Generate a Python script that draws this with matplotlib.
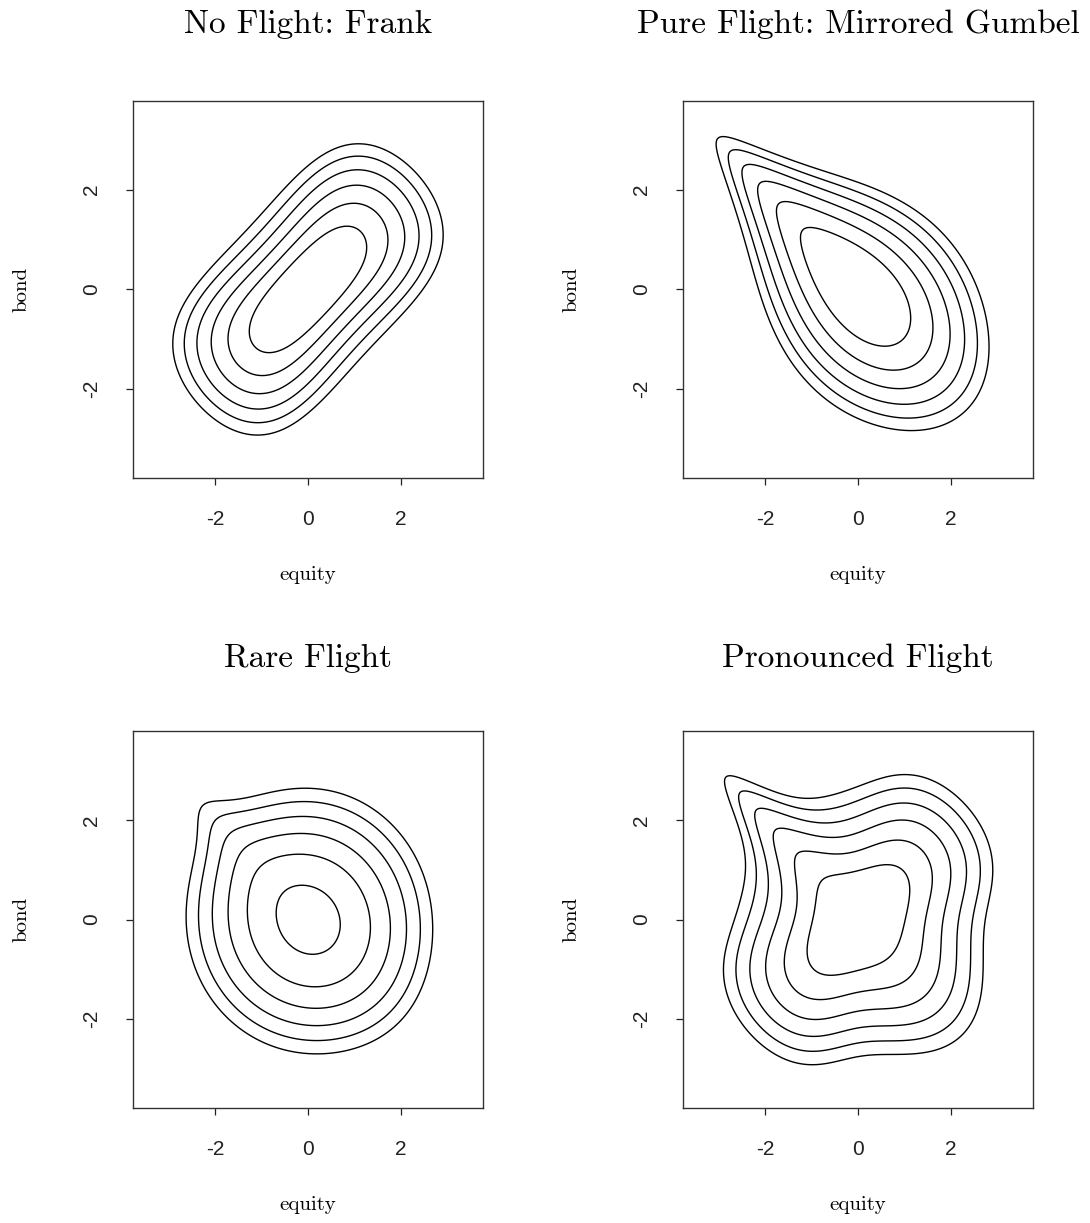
import math
import numpy as np
import matplotlib
matplotlib.use("Agg")
import matplotlib.pyplot as plt

plt.rcParams['axes.unicode_minus'] = False

# panel titles and axis labels
titles = ["No Flight: Frank", "Pure Flight: Mirrored Gumbel", "Rare Flight", "Pronounced Flight"]
xlabel = "equity"
ylabel = "bond"
ticks = [-2, 0, 2]
lim = 3.78

# copula parameters (standard normal margins)
theta_frank = 5.0
theta_gumbel = 1.6
# rare flight: independence + mirrored Gumbel
rare_w = [0.75, 0.25]
rare_theta = 1.4
# pronounced flight: Frank + independence + mirrored Gumbel
pron_w = [0.5, 0.2, 0.3]
pron_theta_frank = 5.0
pron_theta_gumbel = 1.8

# contour levels of the joint density
levels_frank = [0.003125, 0.00625, 0.0125, 0.025, 0.05, 0.1]
levels_gumbel = [0.003125, 0.00625, 0.0125, 0.025, 0.05, 0.1]
levels_rare = [0.004, 0.008, 0.016, 0.032, 0.064, 0.128]
levels_pron = [0.0019, 0.00402, 0.00852, 0.01803, 0.03817, 0.0808]

erfc = np.vectorize(math.erfc)


def Phi(z):
    return 0.5 * erfc(-z / math.sqrt(2))


def neglogPhi(z):
    return -np.log1p(-0.5 * erfc(z / math.sqrt(2)))


def phi(z):
    return np.exp(-z * z / 2) / math.sqrt(2 * math.pi)


def frank(th, X, Y):
    U, V = Phi(X), Phi(Y)
    e = 1 - math.exp(-th)
    c = th * e * np.exp(-th * (U + V)) / (e - (1 - np.exp(-th * U)) * (1 - np.exp(-th * V))) ** 2
    return c * phi(X) * phi(Y)


def mgumbel(th, X, Y):
    # Gumbel copula with the equity margin mirrored
    u, v = Phi(-X), Phi(Y)
    a, b = neglogPhi(-X), neglogPhi(Y)
    A = a ** th + b ** th
    s = A ** (1 / th)
    c = np.exp(-s) * (a * b) ** (th - 1) / (u * v) * A ** (1 / th - 2) * (s + th - 1)
    return c * phi(X) * phi(Y)


g = np.linspace(-lim, lim, 301)
X, Y = np.meshgrid(g, g)

Z = [
    frank(theta_frank, X, Y),
    mgumbel(theta_gumbel, X, Y),
    rare_w[0] * phi(X) * phi(Y) + rare_w[1] * mgumbel(rare_theta, X, Y),
    pron_w[0] * frank(pron_theta_frank, X, Y) + pron_w[1] * phi(X) * phi(Y)
    + pron_w[2] * mgumbel(pron_theta_gumbel, X, Y),
]
levels = [levels_frank, levels_gumbel, levels_rare, levels_pron]

fig = plt.figure(figsize=(10.9, 12.23), dpi=100)
pos = [(0.122, 0.6092), (0.6266, 0.6092), (0.122, 0.0940), (0.6266, 0.0940)]
serif = 'cmr10'
for k in range(4):
    ax = fig.add_axes([pos[k][0], pos[k][1], 0.3211, 0.3083])
    ax.contour(X, Y, Z[k], levels=levels[k], colors='black', linewidths=1.0)
    ax.set_xlim(-lim, lim)
    ax.set_ylim(-lim, lim)
    ax.set_xticks(ticks)
    ax.set_yticks(ticks)
    ax.set_xticklabels([str(t) for t in ticks])
    ax.set_yticklabels([str(t) for t in ticks])
    ax.tick_params(direction='out', length=5, width=0.9, colors='#222222', labelsize=15, pad=25)
    for lbl in ax.get_xticklabels():
        lbl.set_fontfamily('Liberation Sans')
        lbl.set_va('center')
    for lbl in ax.get_yticklabels():
        lbl.set_fontfamily('Liberation Sans')
        lbl.set_rotation(90)
        lbl.set_va('center')
        lbl.set_ha('center')
    for sp in ax.spines.values():
        sp.set_linewidth(1.0)
        sp.set_color('#333333')
    ax.set_title(titles[k], fontfamily=serif, fontsize=24, pad=49 if k < 2 else 46)
    ax.set_xlabel(xlabel, fontfamily=serif, fontsize=15, va='center')
    ax.xaxis.set_label_coords(0.5, -97 / 377)
    ax.set_ylabel(ylabel, fontfamily=serif, fontsize=15, va='center', ha='center')
    ax.yaxis.set_label_coords(-111 / 350, 0.5)

plt.savefig("out.png", dpi=100)
